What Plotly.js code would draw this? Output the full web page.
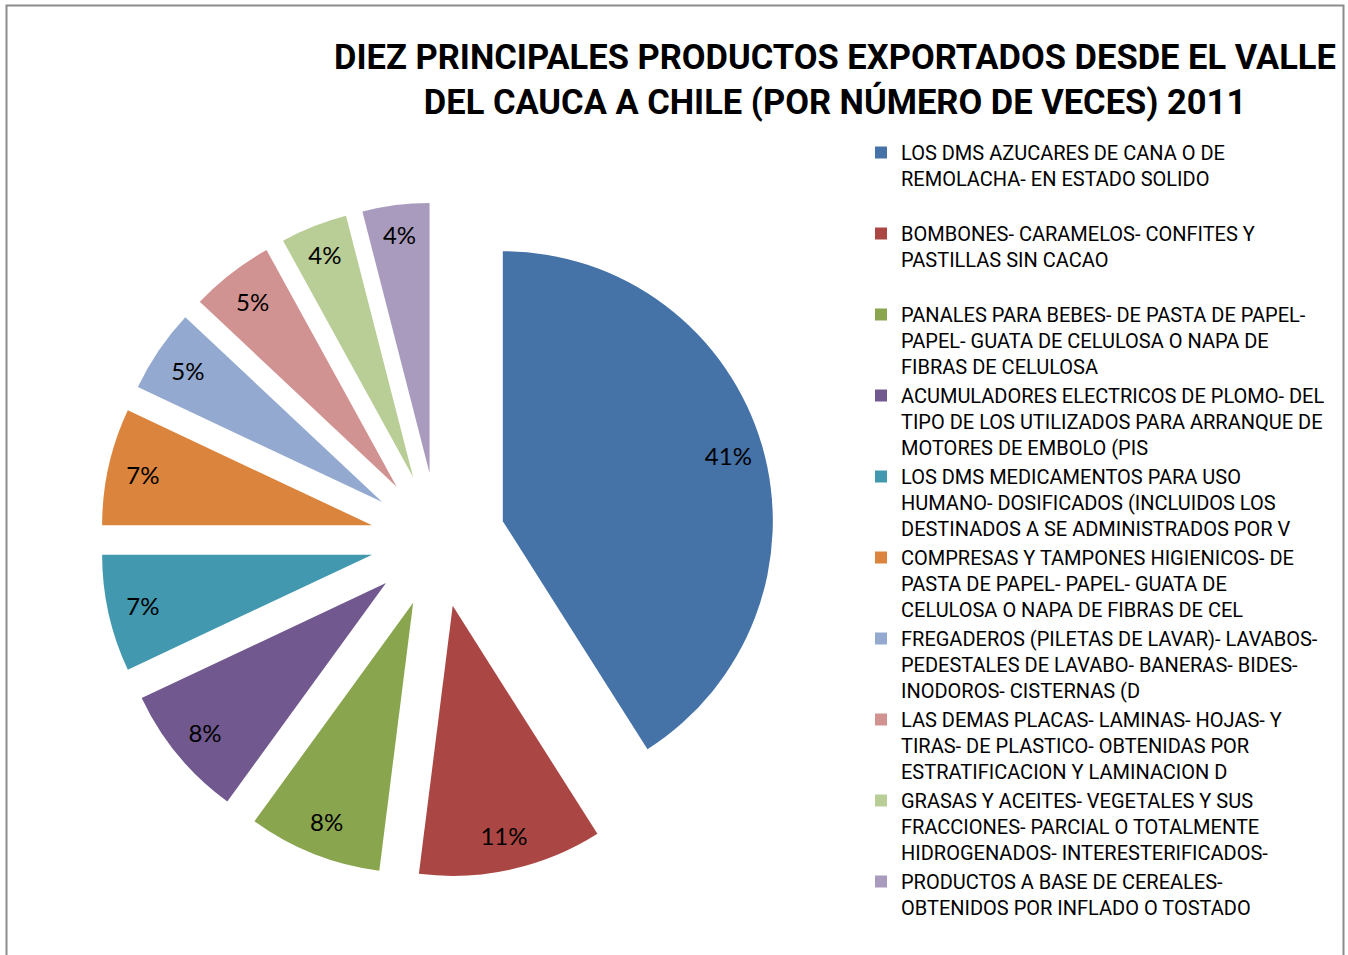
<!DOCTYPE html>
<html>
<head>
<meta charset="utf-8">
<script src="https://cdn.plot.ly/plotly-3.0.1.min.js"></script>
<style>html,body{margin:0;padding:0;background:#fff;}#chart{width:1348px;height:955px;}</style>
</head>
<body>
<div id="chart"></div>
<script>
const categories = [
  "LOS DMS AZUCARES DE CANA O DE<br>REMOLACHA- EN ESTADO SOLIDO<br>\u00a0",
  "BOMBONES- CARAMELOS- CONFITES Y<br>PASTILLAS SIN CACAO<br>\u00a0",
  "PANALES PARA BEBES- DE PASTA DE PAPEL-<br>PAPEL- GUATA DE CELULOSA O NAPA DE<br>FIBRAS DE CELULOSA",
  "ACUMULADORES ELECTRICOS DE PLOMO- DEL<br>TIPO DE LOS UTILIZADOS PARA ARRANQUE DE<br>MOTORES DE EMBOLO (PIS",
  "LOS DMS MEDICAMENTOS PARA USO<br>HUMANO- DOSIFICADOS (INCLUIDOS LOS<br>DESTINADOS A SE ADMINISTRADOS POR V",
  "COMPRESAS Y TAMPONES HIGIENICOS- DE<br>PASTA DE PAPEL- PAPEL- GUATA DE<br>CELULOSA O NAPA DE FIBRAS DE CEL",
  "FREGADEROS (PILETAS DE LAVAR)- LAVABOS-<br>PEDESTALES DE LAVABO- BANERAS- BIDES-<br>INODOROS- CISTERNAS (D",
  "LAS DEMAS PLACAS- LAMINAS- HOJAS- Y<br>TIRAS- DE PLASTICO- OBTENIDAS POR<br>ESTRATIFICACION Y LAMINACION D",
  "GRASAS Y ACEITES- VEGETALES Y SUS<br>FRACCIONES- PARCIAL O TOTALMENTE<br>HIDROGENADOS- INTERESTERIFICADOS-",
  "PRODUCTOS A BASE DE CEREALES-<br>OBTENIDOS POR INFLADO O TOSTADO"
];
const shares = [41, 11, 8, 8, 7, 7, 5, 5, 4, 4];
const colors = ["#4572A7", "#AA4643", "#89A54E", "#71588F", "#4198AF",
                "#DB843D", "#93A9CF", "#D19392", "#B9CD96", "#A99BBD"];
const titleText = "DIEZ PRINCIPALES PRODUCTOS EXPORTADOS DESDE EL VALLE<br>DEL CAUCA A CHILE (POR NÚMERO DE VECES) 2011";

const W = 1348, H = 955;
const pieDomain = {x: [100.5 / W, 775.5 / W], y: [1 - 877.5 / H, 1 - 202.5 / H]};

// Filled slices (no text)
const slices = {
  type: "pie",
  labels: categories,
  values: shares,
  sort: false,
  direction: "clockwise",
  rotation: 0,
  pull: 0.25,
  marker: {colors: colors, line: {width: 0}},
  textinfo: "none",
  hoverinfo: "label+percent",
  domain: pieDomain
};
// Same pie as a transparent ring carrying the percentage labels near the rim
const labelRing = {
  type: "pie",
  labels: categories,
  values: shares,
  sort: false,
  direction: "clockwise",
  rotation: 0,
  pull: 0.25,
  hole: 0.74,
  showlegend: false,
  marker: {colors: categories.map(() => "rgba(0,0,0,0)"), line: {width: 0}},
  texttemplate: "%{percent:.0%}",
  textposition: "inside",
  insidetextorientation: "horizontal",
  textfont: {family: "Lato, 'Open Sans', sans-serif", size: 24, color: "#000"},
  hoverinfo: "skip",
  domain: pieDomain
};

const layout = {
  width: W, height: H,
  margin: {l: 0, r: 0, t: 0, b: 0, autoexpand: false},
  paper_bgcolor: "#fff",
  title: {
    text: titleText,
    font: {family: "Roboto, 'Liberation Sans', sans-serif", size: 34.5, color: "#000", weight: "bold"},
    x: 835 / W, xanchor: "center", xref: "container",
    y: 1 - 69 / H, yanchor: "top", yref: "container"
  },
  showlegend: true,
  legend: {
    x: 861 / W, xanchor: "left",
    y: 1 - 133 / H, yanchor: "top",
    valign: "top",
    font: {family: "Roboto, 'Liberation Sans', sans-serif", size: 20, color: "#000"},
    bgcolor: "rgba(0,0,0,0)",
    tracegroupgap: 0
  },
  shapes: [{
    type: "rect", xref: "paper", yref: "paper",
    x0: 6.5 / W, x1: 1343.5 / W, y0: -0.02, y1: 1 - 5.5 / H,
    line: {color: "#8c8c8c", width: 2}, fillcolor: "rgba(0,0,0,0)"
  }]
};

Plotly.newPlot("chart", [slices, labelRing], layout, {displayModeBar: false, staticPlot: true});
</script>
</body>
</html>
